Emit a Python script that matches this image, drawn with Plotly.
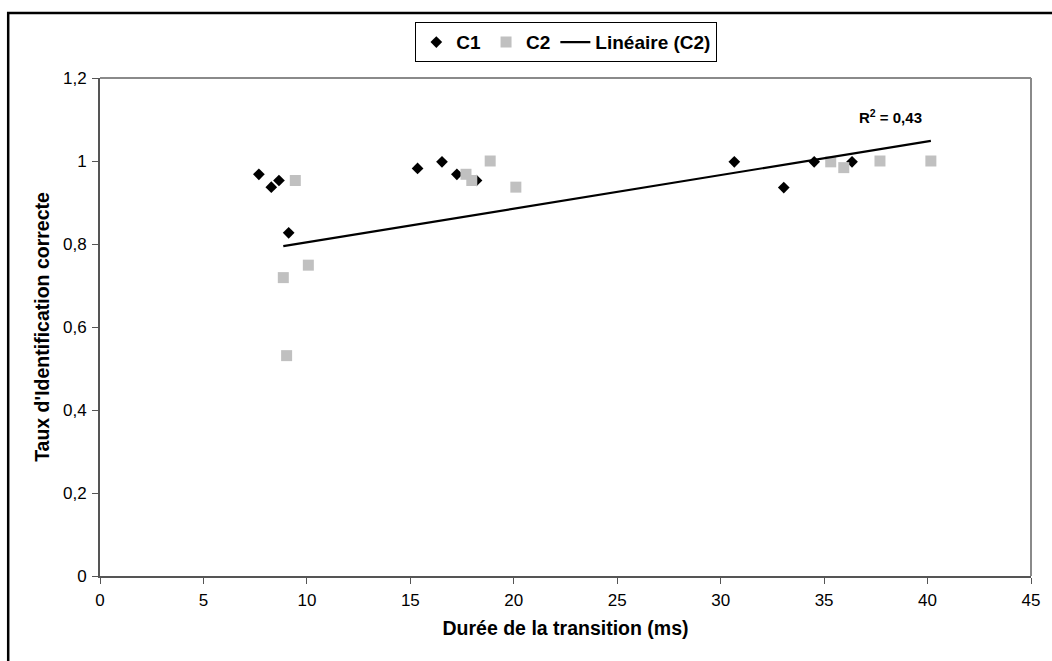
import numpy as np
import plotly.graph_objects as go

# Series C1: transition duration (ms) vs identification rate
c1_x = [7.68, 8.28, 8.65, 9.12, 15.35, 16.53, 17.25, 18.2, 30.66, 33.05, 34.52, 36.35]
c1_y = [0.968, 0.937, 0.953, 0.827, 0.982, 0.998, 0.968, 0.953, 0.998, 0.936, 0.998, 0.998]

# Series C2
c2_x = [8.86, 9.02, 9.44, 10.07, 17.69, 17.97, 18.86, 20.1, 35.32, 35.95, 37.7, 40.16]
c2_y = [0.719, 0.531, 0.953, 0.749, 0.968, 0.953, 1.0, 0.937, 0.998, 0.984, 1.0, 1.0]

x_ticks = [0, 5, 10, 15, 20, 25, 30, 35, 40, 45]
y_ticks = [0, 0.2, 0.4, 0.6, 0.8, 1.0, 1.2]
y_tick_text = ["0", "0,2", "0,4", "0,6", "0,8", "1", "1,2"]

# Linear trend of C2 and its coefficient of determination
cx = np.array(c2_x)
cy = np.array(c2_y)
slope, intercept = np.polyfit(cx, cy, 1)
pred = slope * cx + intercept
r2 = 1 - np.sum((cy - pred) ** 2) / np.sum((cy - cy.mean()) ** 2)
fit_x = [cx.min(), cx.max()]
fit_y = [slope * v + intercept for v in fit_x]

FONT = "Liberation Sans, Arial, sans-serif"

fig = go.Figure()
fig.add_trace(go.Scatter(
    x=c1_x, y=c1_y, mode="markers", name="C1",
    marker=dict(symbol="diamond", size=9, color="black", line=dict(width=0)),
))
fig.add_trace(go.Scatter(
    x=c2_x, y=c2_y, mode="markers", name="C2",
    marker=dict(symbol="square", size=11, color="#c0c0c0", line=dict(width=0)),
))
fig.add_trace(go.Scatter(
    x=fit_x, y=fit_y, mode="lines", name="Linéaire (C2)",
    line=dict(color="black", width=2.2),
))

fig.add_annotation(
    x=38.2, y=1.107, xref="x", yref="y",
    text="<b>R<sup>2</sup> = " + f"{r2:.2f}".replace(".", ",") + "</b>",
    showarrow=False, font=dict(family=FONT, size=15, color="black"),
)

# Plot-area border on top and right
fig.add_shape(type="line", xref="paper", yref="paper", x0=0, x1=1, y0=1, y1=1,
              line=dict(color="#8a8a8a", width=2))
fig.add_shape(type="line", xref="paper", yref="paper", x0=1, x1=1, y0=0, y1=1,
              line=dict(color="#8a8a8a", width=2))
# Outer chart frame
fig.add_shape(type="rect", xref="paper", yref="paper",
              x0=(8 - 100) / 933, x1=(1070 - 100) / 933,
              y0=(576 - 680) / 498, y1=(576 - 13) / 498,
              line=dict(color="black", width=2.5), layer="below")

fig.update_layout(
    width=1052, height=661,
    margin=dict(l=100, r=19, t=78, b=85),
    paper_bgcolor="white", plot_bgcolor="white",
    font=dict(family=FONT, color="black", size=17),
    showlegend=True,
    legend=dict(
        orientation="h", x=0.3387, y=1.112, xanchor="left", yanchor="top",
        bordercolor="black", borderwidth=1, bgcolor="white",
        font=dict(family=FONT, size=19, weight="bold"),
        itemwidth=30, tracegroupgap=0,
    ),
    xaxis=dict(
        range=[0, 45], tickvals=x_ticks, ticktext=[str(v) for v in x_ticks],
        showline=True, linecolor="#555555", linewidth=2,
        ticks="outside", ticklen=6, tickcolor="#555555", tickwidth=1,
        ticklabelstandoff=2,
        showgrid=False, zeroline=False,
        tickfont=dict(family=FONT, size=17),
        title=dict(text="Durée de la transition (ms)",
                   font=dict(family=FONT, size=19.5, weight="bold"), standoff=12),
    ),
    yaxis=dict(
        range=[0, 1.2], tickvals=y_ticks, ticktext=y_tick_text,
        showline=True, linecolor="#555555", linewidth=2,
        ticks="outside", ticklen=6, tickcolor="#555555", tickwidth=1,
        ticklabelstandoff=2,
        showgrid=False, zeroline=False,
        tickfont=dict(family=FONT, size=17),
        title=dict(text="Taux d'Identification correcte",
                   font=dict(family=FONT, size=19.5, weight="bold"), standoff=8),
    ),
)

fig.write_html("out.html")
